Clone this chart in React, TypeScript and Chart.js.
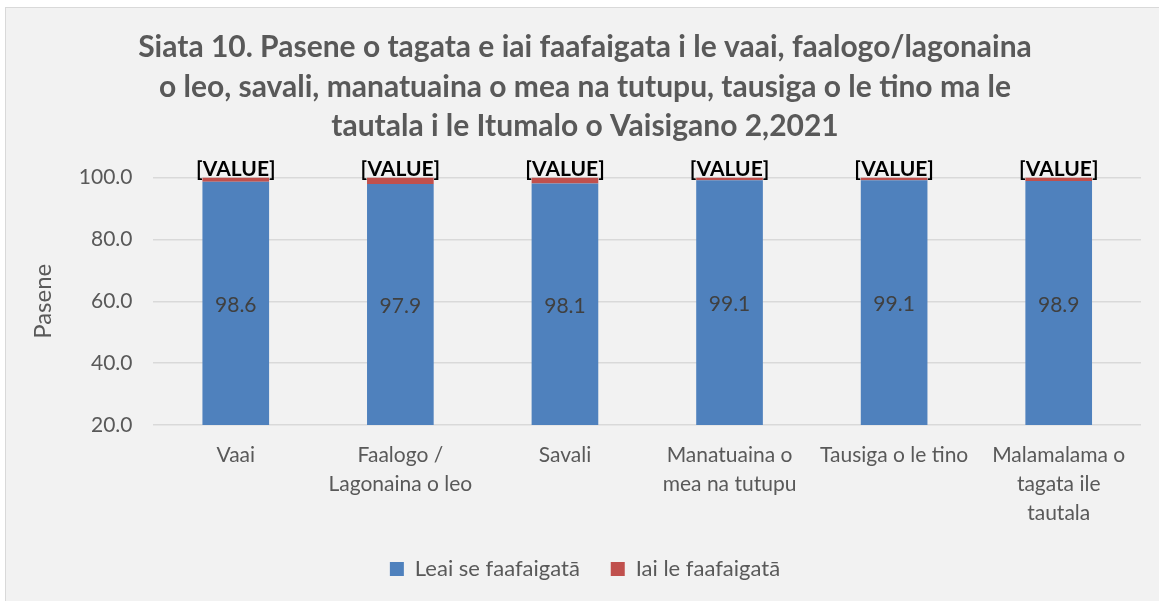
import React, { useEffect, useRef } from "react";
import { Chart, registerables } from "chart.js";

Chart.register(...registerables);

const categories: (string | string[])[] = [
  "Vaai",
  ["Faalogo /", "Lagonaina o leo"],
  "Savali",
  ["Manatuaina o", "mea na tutupu"],
  "Tausiga o le tino",
  ["Malamalama o", "tagata ile", "tautala"],
];
const leaiValues = [98.6, 97.9, 98.1, 99.1, 99.1, 98.9];
const iaiValues = [1.4, 2.1, 1.9, 0.9, 0.9, 1.1];
const yTicks = [20, 40, 60, 80, 100];
const titleLines = [
  "Siata 10. Pasene o tagata e iai faafaigata i le vaai, faalogo/lagonaina",
  "o leo, savali, manatuaina o mea na tutupu, tausiga o le tino ma le",
  "tautala i le Itumalo o Vaisigano 2,2021",
];
const seriesNames = ["Leai se faafaigatā", "Iai le faafaigatā"];
const topLabel = "[VALUE]";

const FONT = "Lato, 'Open Sans', sans-serif";

const labelPlugin = {
  id: "barLabels",
  afterDatasetsDraw(chart: any) {
    const ctx = chart.ctx;
    const area = chart.chartArea;
    ctx.save();
    const m0 = chart.getDatasetMeta(0);
    ctx.font = `21px ${FONT}`;
    ctx.fillStyle = "#404040";
    ctx.textAlign = "center";
    ctx.textBaseline = "middle";
    m0.data.forEach((el: any, i: number) => {
      const p = el.getProps(["x", "y", "base"], true);
      const bottom = Math.min(p.base, area.bottom);
      ctx.fillText(leaiValues[i].toFixed(1), p.x, (p.y + bottom) / 2 + 2);
    });
    const m1 = chart.getDatasetMeta(1);
    ctx.font = `bold 21px ${FONT}`;
    ctx.fillStyle = "#000000";
    ctx.textBaseline = "alphabetic";
    m1.data.forEach((el: any) => {
      const p = el.getProps(["x", "y"], true);
      ctx.fillText(topLabel, p.x, p.y - 2);
    });
    ctx.restore();
  },
};

export default function App() {
  const ref = useRef<HTMLCanvasElement>(null);
  useEffect(() => {
    if (!ref.current) return;
    const chart = new Chart(ref.current, {
      type: "bar",
      data: {
        labels: categories,
        datasets: [
          {
            label: seriesNames[0],
            data: leaiValues,
            backgroundColor: "#4f81bd",
            barPercentage: 0.405,
            categoryPercentage: 1,
          },
          {
            label: seriesNames[1],
            data: iaiValues,
            backgroundColor: "#c0504d",
            barPercentage: 0.405,
            categoryPercentage: 1,
          },
        ],
      },
      options: {
        animation: false,
        responsive: false,
        maintainAspectRatio: false,
        layout: { padding: { left: 23, right: 18, top: 0, bottom: 12 } },
        plugins: {
          title: {
            display: true,
            text: titleLines,
            color: "#595959",
            font: { family: FONT, size: 30, weight: "bold", lineHeight: 1.317 },
            padding: { top: 20, bottom: 31 },
          },
          legend: {
            position: "bottom",
            labels: {
              color: "#595959",
              font: { family: FONT, size: 22 },
              boxWidth: 14,
              boxHeight: 14,
              padding: 14,
              generateLabels: (chart: any) => {
                const items = Chart.defaults.plugins.legend.labels.generateLabels(chart);
                if (items[0]) items[0].text = items[0].text + "   ";
                return items;
              },
            },
          },
          tooltip: { enabled: false },
        },
        scales: {
          x: {
            stacked: true,
            grid: { display: false, drawTicks: false },
            border: { display: false },
            ticks: {
              color: "#595959",
              font: { family: FONT, size: 21, lineHeight: 1.38 },
              padding: 16,
              maxRotation: 0,
              autoSkip: false,
            },
          },
          y: {
            stacked: true,
            min: 20,
            max: 100,
            afterBuildTicks: (axis: any) => {
              axis.ticks = yTicks.map((v) => ({ value: v }));
            },
            grid: { color: "#d9d9d9", lineWidth: 1.5, drawTicks: false },
            border: { display: false },
            ticks: {
              color: "#595959",
              font: { family: FONT, size: 21 },
              padding: 21,
              callback: (v: any) => Number(v).toFixed(1),
            },
            title: {
              display: true,
              text: "Pasene",
              color: "#595959",
              font: { family: FONT, size: 24, lineHeight: 1.2 },
              padding: { top: 0, bottom: 0 },
            },
          },
        },
      },
      plugins: [labelPlugin],
    });
    return () => chart.destroy();
  }, []);

  return (
    <div style={{ position: "fixed", left: 0, top: 0, width: 1159, height: 601, background: "#ffffff", overflow: "hidden" }}>
      <div
        style={{
          position: "absolute",
          left: 5,
          top: 7,
          width: 1160,
          height: 600,
          background: "#f2f2f2",
          borderLeft: "1px solid #d9d9d9",
          borderTop: "1px solid #d9d9d9",
        }}
      >
        <canvas ref={ref} width={1153} height={594} style={{ position: "absolute", left: 0, top: 0, display: "block" }} />
      </div>
    </div>
  );
}
